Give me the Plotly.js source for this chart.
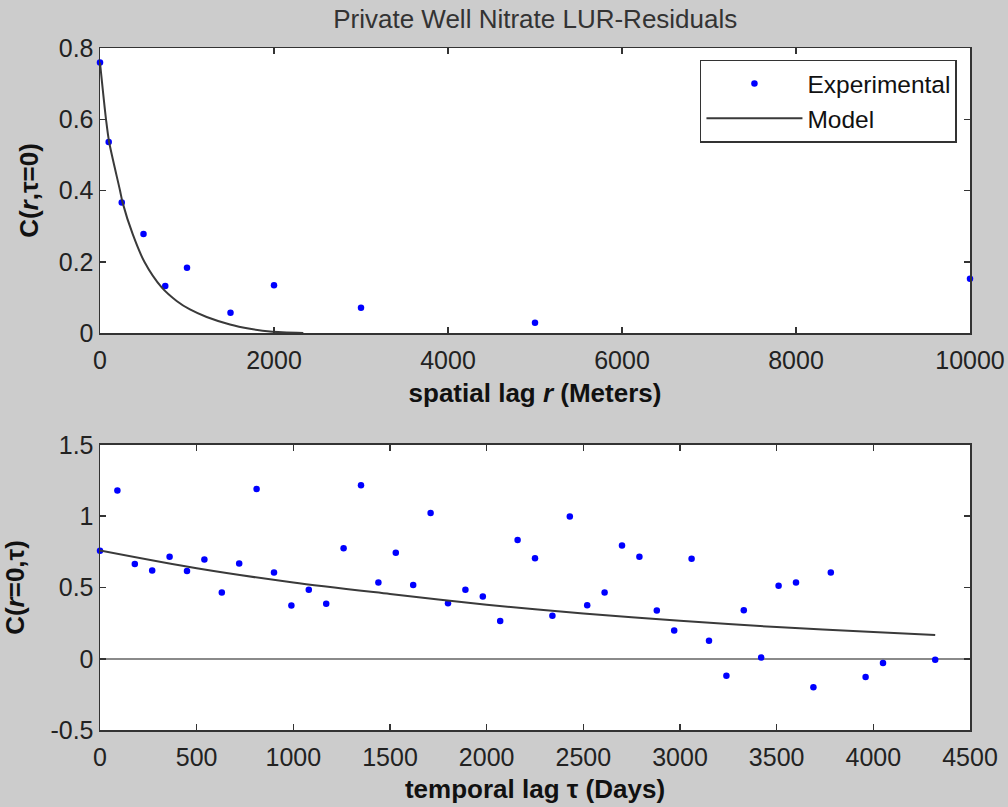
<!DOCTYPE html>
<html>
<head>
<meta charset="utf-8">
<script src="https://cdn.plot.ly/plotly-3.0.1.min.js"></script>
<style>html,body{margin:0;padding:0;background:#cccccc;}#chart{width:1008px;height:807px;}</style>
</head>
<body>
<div id="chart"></div>
<script>
// ---- Spatial covariance (top panel) ----
const spatialLag = [0, 100, 250, 500, 750, 1000, 1500, 2000, 3000, 5000, 10000];
const spatialCov = [0.759, 0.536, 0.366, 0.278, 0.132, 0.183, 0.057, 0.134, 0.071, 0.029, 0.152];
const spatialModelLag = [0, 69, 105, 230, 260, 375, 510, 709, 881, 1034, 1226, 1494, 1724, 1954, 2337];
const spatialModelCov = [0.759, 0.6, 0.536, 0.4, 0.366, 0.278, 0.2, 0.128, 0.09, 0.066, 0.045, 0.024, 0.012, 0.004, 0.0];

// ---- Temporal covariance (bottom panel) ----
const temporalLag = [0, 90, 180, 270, 360, 450, 540, 630, 720, 810, 900, 990, 1080, 1170, 1260, 1350, 1440, 1530, 1620, 1710,
  1800, 1890, 1980, 2070, 2160, 2250, 2340, 2430, 2520, 2610, 2700, 2790, 2880, 2970, 3060, 3150, 3240,
  3330, 3420, 3510, 3600, 3690, 3780, 3960, 4050, 4320];
const temporalCov = [0.757, 1.18, 0.664, 0.619, 0.715, 0.615, 0.697, 0.465, 0.668, 1.192, 0.605, 0.374, 0.484, 0.386, 0.776, 1.218, 0.535, 0.743, 0.517, 1.022,
  0.39, 0.484, 0.437, 0.264, 0.834, 0.706, 0.302, 0.998, 0.376, 0.465, 0.795, 0.715, 0.339, 0.199, 0.701, 0.126, -0.119,
  0.341, 0.009, 0.512, 0.535, -0.2, 0.605, -0.128, -0.03, -0.007];
const temporalModelLag = [0, 500, 1000, 1500, 2000, 2500, 3000, 3500, 4000, 4320];
const temporalModelCov = [0.76, 0.635, 0.535, 0.455, 0.379, 0.317, 0.266, 0.222, 0.187, 0.166];

// ---- Tick labels ----
const xTop = [0, 2000, 4000, 6000, 8000, 10000];
const xTopText = ['0', '2000', '4000', '6000', '8000', '10000'];
const yTop = [0, 0.2, 0.4, 0.6, 0.8];
const yTopText = ['0', '0.2', '0.4', '0.6', '0.8'];
const xBot = [0, 500, 1000, 1500, 2000, 2500, 3000, 3500, 4000, 4500];
const xBotText = ['0', '500', '1000', '1500', '2000', '2500', '3000', '3500', '4000', '4500'];
const yBot = [-0.5, 0, 0.5, 1, 1.5];
const yBotText = ['-0.5', '0', '0.5', '1', '1.5'];

const FONT = 'Liberation Sans, Arial, Helvetica, sans-serif';
const dotStyle = {size: 6.5, color: '#0000ff'};
const lineStyle = {color: '#3a3a3a', width: 2};

const traces = [
  {x: spatialLag, y: spatialCov, type: 'scatter', mode: 'markers', name: 'Experimental',
   marker: dotStyle, cliponaxis: false, xaxis: 'x', yaxis: 'y'},
  {x: spatialModelLag, y: spatialModelCov, type: 'scatter', mode: 'lines', name: 'Model',
   line: Object.assign({shape: 'spline', smoothing: 0.8}, lineStyle), xaxis: 'x', yaxis: 'y'},
  {x: temporalLag, y: temporalCov, type: 'scatter', mode: 'markers', name: 'Experimental', showlegend: false,
   marker: dotStyle, cliponaxis: false, xaxis: 'x2', yaxis: 'y2'},
  {x: temporalModelLag, y: temporalModelCov, type: 'scatter', mode: 'lines', name: 'Model', showlegend: false,
   line: Object.assign({shape: 'spline', smoothing: 0.8}, lineStyle), xaxis: 'x2', yaxis: 'y2'}
];

function axisBase(extra) {
  return Object.assign({
    showline: true, linecolor: '#333', linewidth: 1.5, mirror: 'ticks',
    ticks: 'inside', ticklen: 6, tickwidth: 1.5, tickcolor: '#333',
    showgrid: false, zeroline: false, automargin: false,
    tickfont: {family: FONT, size: 25, color: '#222'}
  }, extra);
}
const titleFont = {family: FONT, size: 26, color: '#111', weight: 'bold'};

const layout = {
  width: 1008, height: 807,
  margin: {l: 100, r: 38, t: 48, b: 77, pad: 0},
  paper_bgcolor: '#cccccc', plot_bgcolor: '#ffffff',
  font: {family: FONT, color: '#222'},
  title: {text: 'Private Well Nitrate LUR-Residuals', x: 0.531, xref: 'container', y: 0.977, yref: 'container', yanchor: 'middle',
          font: {family: FONT, size: 26, color: '#333'}},
  showlegend: true,
  legend: {x: 0.985, xanchor: 'right', y: 0.983, yanchor: 'top', bgcolor: '#ffffff', bordercolor: '#333', borderwidth: 1.5,
           font: {family: FONT, size: 24.5, color: '#111'}, itemwidth: 96},
  xaxis: axisBase({domain: [0, 1], anchor: 'y', range: [0, 10000], tickvals: xTop, ticktext: xTopText, ticklabelstandoff: 4,
    title: {text: 'spatial lag <i>r</i> (Meters)', font: titleFont, standoff: 11}}),
  yaxis: axisBase({domain: [0.5821, 1], anchor: 'x', range: [0, 0.8], tickvals: yTop, ticktext: yTopText,
    title: {text: 'C(<i>r</i>,τ=0)', font: titleFont, standoff: 12}}),
  xaxis2: axisBase({domain: [0, 1], anchor: 'y2', range: [0, 4500], tickvals: xBot, ticktext: xBotText, ticklabelstandoff: 4,
    title: {text: 'temporal lag τ (Days)', font: titleFont, standoff: 10}}),
  yaxis2: axisBase({domain: [0, 0.4179], anchor: 'x2', range: [-0.5, 1.5], tickvals: yBot, ticktext: yBotText,
    zeroline: true, zerolinecolor: '#8a8a8a', zerolinewidth: 2,
    title: {text: 'C(<i>r</i>=0,τ)', font: titleFont, standoff: 22}})
};

Plotly.newPlot('chart', traces, layout, {displayModeBar: false, staticPlot: true});
</script>
</body>
</html>
